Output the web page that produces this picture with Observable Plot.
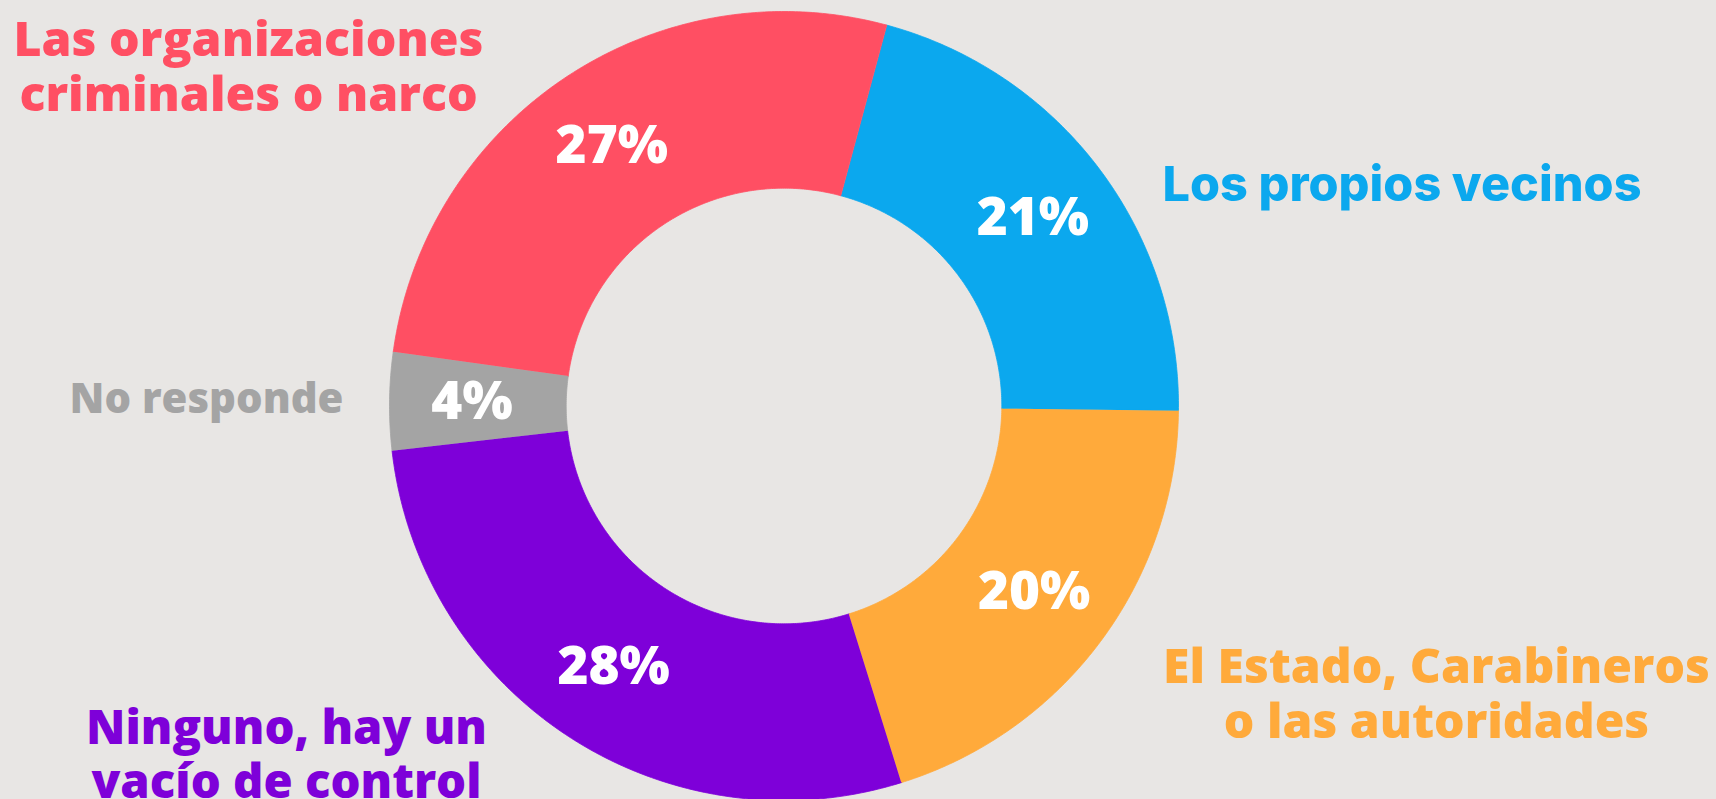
<!DOCTYPE html>
<html>
<head>
<meta charset="utf-8">
<script src="https://cdn.jsdelivr.net/npm/d3@7"></script>
<script src="https://cdn.jsdelivr.net/npm/@observablehq/plot@0.6"></script>
<style>
  html, body { margin: 0; padding: 0; background: #E8E6E4; overflow: hidden; }
  #chart svg { display: block; }
</style>
</head>
<body>
<div id="chart"></div>
<script>
// ---- data ----
const categories = [
  "Los propios vecinos",
  "El Estado, Carabineros o las autoridades",
  "Ninguno, hay un vacío de control",
  "No responde",
  "Las organizaciones criminales o narco"
];
const values = [21, 20, 28, 4, 27];
const percentLabels = ["21%", "20%", "28%", "4%", "27%"];
const categoryLines = [
  "Los propios vecinos",
  "El Estado, Carabineros\no las autoridades",
  "Ninguno, hay un\nvacío de control",
  "No responde",
  "Las organizaciones\ncriminales o narco"
];
const colors = ["#0BA8EE", "#FFAA3B", "#7E00D9", "#A4A4A4", "#FF4F63"];

// ---- layout ----
const W = 1716, H = 799;
const CX = 783.5, CY = 405.5, R = 394.5, R_IN = 217.8, R_LABEL = 312;
const START_DEG = 15.1;
// category label placement (pixel centre x, last-line baseline y, target width of widest line)
const labelLayout = [
  {px: 1401.5, py: 200, width: 479, font: "Inter", weight: 800},
  {px: 1436,   py: 737, width: 547, font: "Open Sans", weight: 800},
  {px: 286,    py: 797, width: 401, font: "Open Sans", weight: 800},
  {px: 206,    py: 412, width: 274, font: "Open Sans", weight: 800},
  {px: 248,    py: 110, width: 470, font: "Open Sans", weight: 800}
];

const table = categories.map((c, i) => ({category: c, value: values[i], pct: percentLabels[i], lines: categoryLines[i]}));
const a0 = START_DEG * Math.PI / 180;
const arcs = d3.pie().sort(null).value(d => d.value).startAngle(a0).endAngle(a0 + 2 * Math.PI)(table);
const inner = R_IN / R;

const ring = [];
arcs.forEach(a => {
  const steps = Math.max(6, Math.ceil((a.endAngle - a.startAngle) / (Math.PI / 360)));
  for (let k = 0; k <= steps; k++) {
    const t = a.startAngle + (a.endAngle - a.startAngle) * k / steps;
    ring.push({category: a.data.category, x: Math.sin(t), y: Math.cos(t)});
  }
  for (let k = steps; k >= 0; k--) {
    const t = a.startAngle + (a.endAngle - a.startAngle) * k / steps;
    ring.push({category: a.data.category, x: inner * Math.sin(t), y: inner * Math.cos(t)});
  }
});

const rMid = R_LABEL / R;
const centroids = arcs.map(a => {
  const m = (a.startAngle + a.endAngle) / 2;
  return {category: a.data.category, pct: a.data.pct, x: rMid * Math.sin(m), y: rMid * Math.cos(m)};
});

const labels = table.map((d, i) => ({
  category: d.category, lines: d.lines,
  x: (labelLayout[i].px - CX) / R,
  y: (CY - labelLayout[i].py) / R
}));

const chart = Plot.plot({
  width: W, height: H,
  margin: 0,
  style: {background: "#E8E6E4", overflow: "visible"},
  x: {domain: [-CX / R, (W - CX) / R], range: [0, W], axis: null},
  y: {domain: [-(H - CY) / R, CY / R], range: [H, 0], axis: null},
  color: {domain: categories, range: colors},
  marks: [
    Plot.line(ring, {x: "x", y: "y", z: "category", fill: "category", stroke: "category", strokeWidth: 0.8, curve: "linear"}),
    Plot.text(centroids, {x: "x", y: "y", text: "pct", fill: "white", fontSize: 53, fontWeight: 800, fontFamily: "Open Sans", textAnchor: "middle", lineAnchor: "middle"}),
    Plot.text(labels, {x: "x", y: "y", text: "lines", fill: "category", fontSize: 50, fontWeight: 800, fontFamily: "Open Sans", textAnchor: "middle", lineAnchor: "bottom", lineHeight: 1.13})
  ]
});

document.getElementById("chart").appendChild(chart);

// fit category labels to their measured widths
const textGroups = chart.querySelectorAll('g[aria-label="text"]');
const catGroup = textGroups[textGroups.length - 1];
catGroup.querySelectorAll("text").forEach((el, i) => {
  const L = labelLayout[i];
  el.setAttribute("font-family", L.font);
  el.setAttribute("font-weight", L.weight);
  el.setAttribute("font-size", 50);
  const w = el.getBBox().width;
  if (w > 0) el.setAttribute("font-size", (50 * L.width / w).toFixed(2));
});
</script>
</body>
</html>
